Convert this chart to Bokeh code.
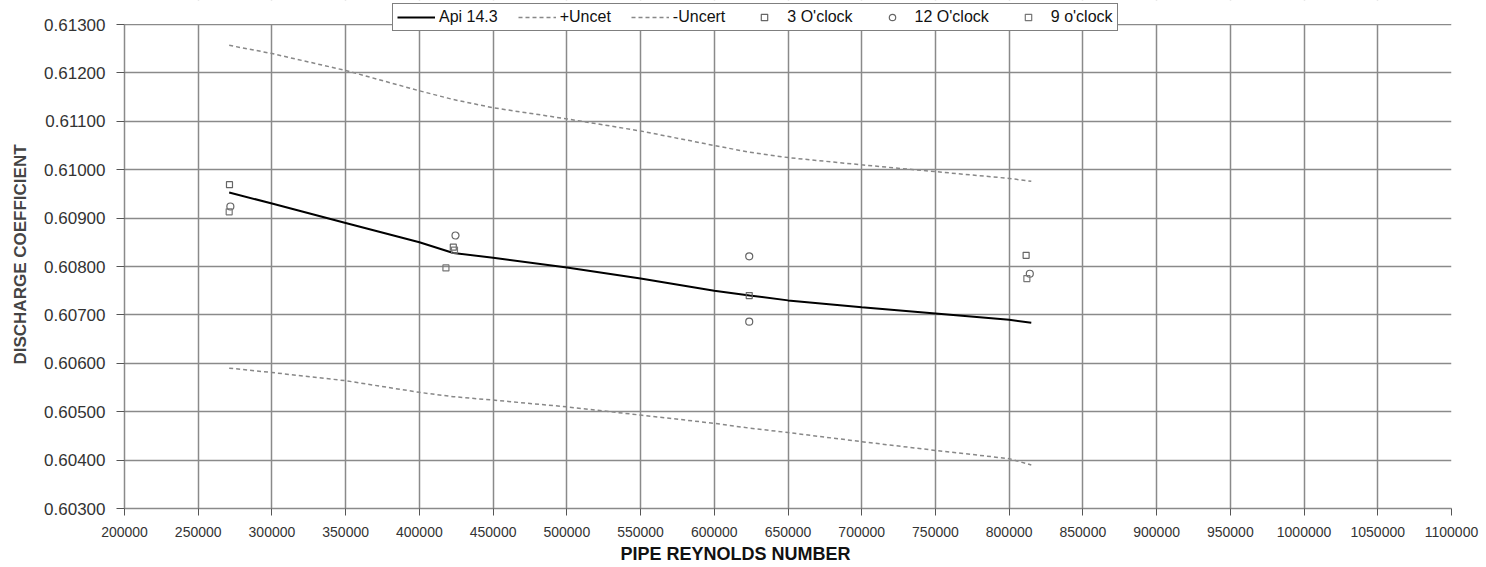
from bokeh.plotting import figure
from bokeh.models import (Range1d, SingleIntervalTicker, NumeralTickFormatter, Legend, LegendItem,
                          Title, BoxAnnotation)
from bokeh.embed import file_html
from bokeh.resources import INLINE

# Api 14.3 curve
api_x = [271000, 300000, 350000, 400000, 423000, 450000, 500000, 550000, 600000, 624000, 650000, 700000, 750000, 800000, 815000]
api_y = [0.60953, 0.60930, 0.60890, 0.60850, 0.60828, 0.60818, 0.60798, 0.60775, 0.60750, 0.60740, 0.60730, 0.60716, 0.60703, 0.60690, 0.60684]
# +Uncet
up_y = [0.61257, 0.61240, 0.61205, 0.61163, 0.61145, 0.61128, 0.61105, 0.61080, 0.61050, 0.61036, 0.61025, 0.61010, 0.60996, 0.60982, 0.60976]
# -Uncert
lo_y = [0.60590, 0.60581, 0.60564, 0.60540, 0.60531, 0.60524, 0.60510, 0.60493, 0.60476, 0.60466, 0.60457, 0.60438, 0.60420, 0.60403, 0.60390]

# measured points
three_x = [271200, 423000, 623700, 811500]
three_y = [0.60969, 0.60840, 0.60740, 0.60823]
twelve_x = [271800, 424500, 623700, 623700, 814000]
twelve_y = [0.60924, 0.60864, 0.60821, 0.60686, 0.60785]
nine_x = [271000, 423800, 418000, 812000]
nine_y = [0.60913, 0.60834, 0.60797, 0.60775]

x_title = "PIPE REYNOLDS NUMBER"
y_title = "DISCHARGE COEFFICIENT"

X_MIN, X_MAX = 200000, 1100000
Y_MIN, Y_MAX = 0.603, 0.613

FONT = "Liberation Sans"
GRID = "#8a8a8a"

# frame spans full height; extra headroom above Y_MAX holds the legend
PX_PER_UNIT_Y = 48400.0
head = 24 / PX_PER_UNIT_Y

p = figure(width=1486, height=567, output_backend="svg", toolbar_location=None,
           x_range=Range1d(X_MIN, X_MAX), y_range=Range1d(Y_MIN, Y_MAX + head),
           min_border_left=124, min_border_right=35, min_border_top=0, min_border_bottom=59)
p.background_fill_color = "white"
p.border_fill_color = "white"
p.outline_line_color = None

p.xaxis.ticker = SingleIntervalTicker(interval=50000)
p.yaxis.ticker = SingleIntervalTicker(interval=0.001)
p.xaxis.formatter = NumeralTickFormatter(format="0")
p.yaxis.formatter = NumeralTickFormatter(format="0.00000")
p.yaxis.bounds = (Y_MIN, Y_MAX)
for ax in (p.xaxis, p.yaxis):
    ax.axis_line_color = GRID
    ax.axis_line_width = 1.5
    ax.major_tick_line_color = "#555555"
    ax.major_tick_out = 8
    ax.major_tick_in = 0
    ax.minor_tick_line_color = None
    ax.major_label_text_font = FONT
    ax.major_label_text_color = "#333333"
p.xaxis.major_tick_out = 7
p.yaxis.major_label_text_font_size = "17px"
p.xaxis.major_label_text_font_size = "14px"
p.xaxis.major_label_standoff = 11
p.yaxis.major_label_standoff = 11
p.yaxis.axis_label = y_title
p.yaxis.axis_label_text_font = FONT
p.yaxis.axis_label_text_font_style = "bold"
p.yaxis.axis_label_text_font_size = "17px"
p.yaxis.axis_label_standoff = 11

# x title placed like the reference (left of frame centre)
p.add_layout(Title(text=x_title, align="left", offset=496, standoff=5,
                   text_font=FONT, text_font_style="bold", text_font_size="18px",
                   text_color="#111111"), "below")

p.xgrid.grid_line_color = GRID
p.ygrid.grid_line_color = GRID
p.xgrid.grid_line_width = 1.5
p.ygrid.grid_line_width = 1.5
p.add_layout(BoxAnnotation(bottom=Y_MAX + 0.000008, fill_color="white", fill_alpha=1,
                           line_color=None, level="underlay"))

r_api = p.line(api_x, api_y, line_color="black", line_width=2)
r_up = p.line(api_x, up_y, line_color="#888888", line_width=1.5, line_dash="4 3")
r_lo = p.line(api_x, lo_y, line_color="#888888", line_width=1.5, line_dash="4 3")
r_3 = p.scatter(three_x, three_y, marker="square", size=6, fill_color=None, line_color="#666666", line_width=1.2)
r_12 = p.scatter(twelve_x, twelve_y, marker="circle", size=7, fill_color=None, line_color="#666666", line_width=1.2)
r_9 = p.scatter(nine_x, nine_y, marker="square", size=6, fill_color=None, line_color="#777777", line_width=1.2)

legend = Legend(items=[
    LegendItem(label="Api 14.3", renderers=[r_api]),
    LegendItem(label="+Uncet", renderers=[r_up]),
    LegendItem(label="-Uncert", renderers=[r_lo]),
    LegendItem(label="3 O'clock", renderers=[r_3]),
    LegendItem(label="12 O'clock", renderers=[r_12]),
    LegendItem(label="9 o'clock", renderers=[r_9]),
], orientation="horizontal", location=(268, 477))
legend.label_text_font = FONT
legend.label_text_font_size = "16px"
legend.label_text_color = "#111111"
legend.border_line_color = "black"
legend.border_line_width = 1
legend.background_fill_color = "white"
legend.background_fill_alpha = 1
legend.padding = 4
legend.margin = 0
legend.spacing = 20
legend.glyph_width = 38
legend.glyph_height = 16
legend.label_standoff = 4
legend.label_height = 18
p.add_layout(legend, "center")

open("out.html", "w").write(file_html(p, INLINE))
